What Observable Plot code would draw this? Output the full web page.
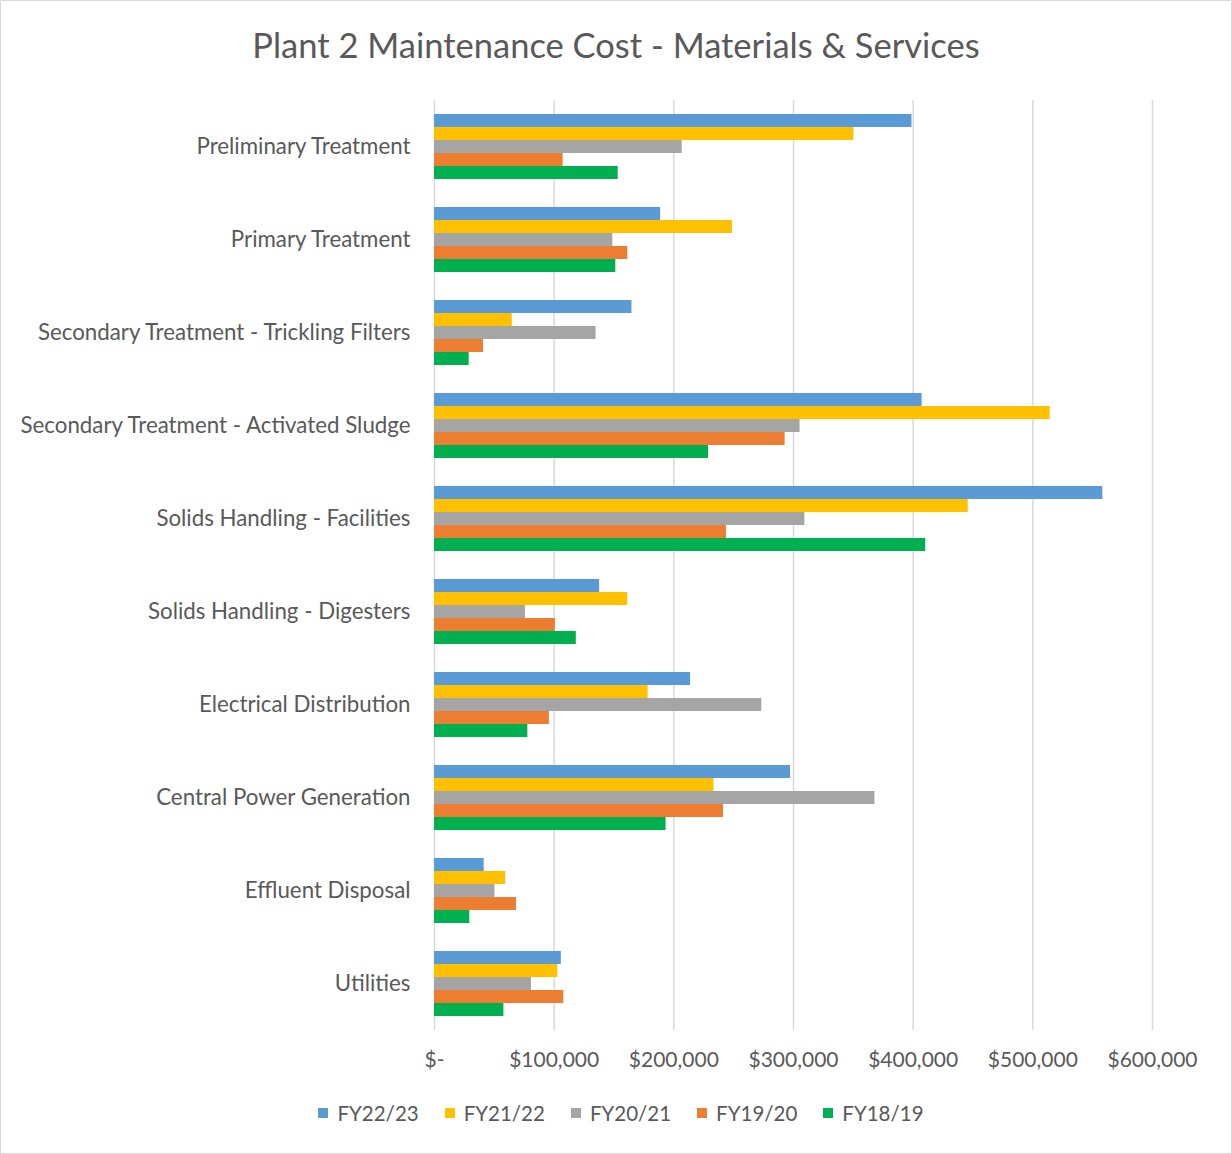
<!DOCTYPE html>
<html>
<head>
<meta charset="utf-8">
<script src="https://cdn.jsdelivr.net/npm/d3@7"></script>
<script src="https://cdn.jsdelivr.net/npm/@observablehq/plot@0.6"></script>
<style>
  html, body { margin: 0; padding: 0; background: #fff; }
  #frame {
    width: 1232px; height: 1154px; box-sizing: border-box;
    border: 1px solid #d9d9d9; background: #fff; position: relative;
    font-family: Lato, "Open Sans", sans-serif; color: #595959;
  }
  #title {
    height: 84px; box-sizing: border-box; padding-top: 23px;
    text-align: center; font-size: 34.5px; line-height: 42px; color: #595959;
  }
  #chart svg { display: block; }
  #legend {
    display: flex; justify-content: center; align-items: center;
    height: 46px; font-size: 20.5px; color: #595959; gap: 0;
    padding-left: 10px; box-sizing: border-box;
  }
  .item { display: flex; align-items: center; margin: 0 13px; }
  .sw { width: 10px; height: 10px; margin-right: 9px; }
</style>
</head>
<body>
<div id="frame">
  <div id="title">Plant 2 Maintenance Cost - Materials &amp; Services</div>
  <div id="chart"></div>
  <div id="legend"></div>
</div>
<script>
const categories = [
  "Preliminary Treatment",
  "Primary Treatment",
  "Secondary Treatment - Trickling Filters",
  "Secondary Treatment - Activated Sludge",
  "Solids Handling - Facilities",
  "Solids Handling - Digesters",
  "Electrical Distribution",
  "Central Power Generation",
  "Effluent Disposal",
  "Utilities"
];
const seriesNames = ["FY22/23", "FY21/22", "FY20/21", "FY19/20", "FY18/19"];
const fy2223 = [399000, 189000, 165000, 407500, 558500, 138000, 214000, 297500, 41500, 106000];
const fy2122 = [350500, 249000, 65000, 514500, 446000, 161500, 178500, 233500, 59500, 103000];
const fy2021 = [207000, 149000, 135000, 305500, 309500, 76000, 273500, 368000, 50500, 81000];
const fy1920 = [107500, 161500, 41000, 293000, 244000, 101000, 96000, 241500, 68500, 108000];
const fy1819 = [153500, 151500, 29000, 229000, 410500, 118500, 78000, 193500, 29500, 58000];
const xTicks = [0, 100000, 200000, 300000, 400000, 500000, 600000];
const colors = ["#5B9BD5", "#FFC000", "#A5A5A5", "#ED7D31", "#00B050"];

const seriesValues = [fy2223, fy2122, fy2021, fy1920, fy1819];
const data = [];
categories.forEach((c, i) => {
  seriesNames.forEach((s, j) => {
    data.push({category: c, series: s, value: seriesValues[j][i]});
  });
});

const fmt = d => d === 0 ? "$-" : "$" + d3.format(",")(d);

const chart = Plot.plot({
  width: 1230,
  height: 1005,
  marginLeft: 433,
  marginRight: 79,
  marginTop: 11,
  marginBottom: 57,
  style: {fontFamily: "Lato, 'Open Sans', sans-serif", fontSize: "20px", color: "#595959", background: "#fff"},
  x: {domain: [0, 600000], label: null},
  fy: {domain: categories, padding: 0, label: null},
  y: {domain: seriesNames, paddingInner: 0, paddingOuter: 0.88, axis: null},
  color: {domain: seriesNames, range: colors},
  marks: [
    Plot.gridX(xTicks, {stroke: "#d9d9d9", strokeOpacity: 1, strokeWidth: 1.5}),
    Plot.barX(data, {x: "value", y: "series", fy: "category", fill: "series"}),
    Plot.axisX(xTicks, {anchor: "bottom", tickSize: 0, tickPadding: 22, tickFormat: fmt, fontSize: 21, fill: "#595959", label: null}),
    Plot.axisFy({anchor: "left", tickSize: 0, tickPadding: 24, fontSize: 22.3, fill: "#595959", label: null})
  ]
});
document.getElementById("chart").appendChild(chart);

const legend = document.getElementById("legend");
seriesNames.forEach((s, i) => {
  const it = document.createElement("div");
  it.className = "item";
  const sw = document.createElement("div");
  sw.className = "sw";
  sw.style.background = colors[i];
  const t = document.createElement("span");
  t.textContent = s;
  it.appendChild(sw);
  it.appendChild(t);
  legend.appendChild(it);
});
</script>
</body>
</html>
